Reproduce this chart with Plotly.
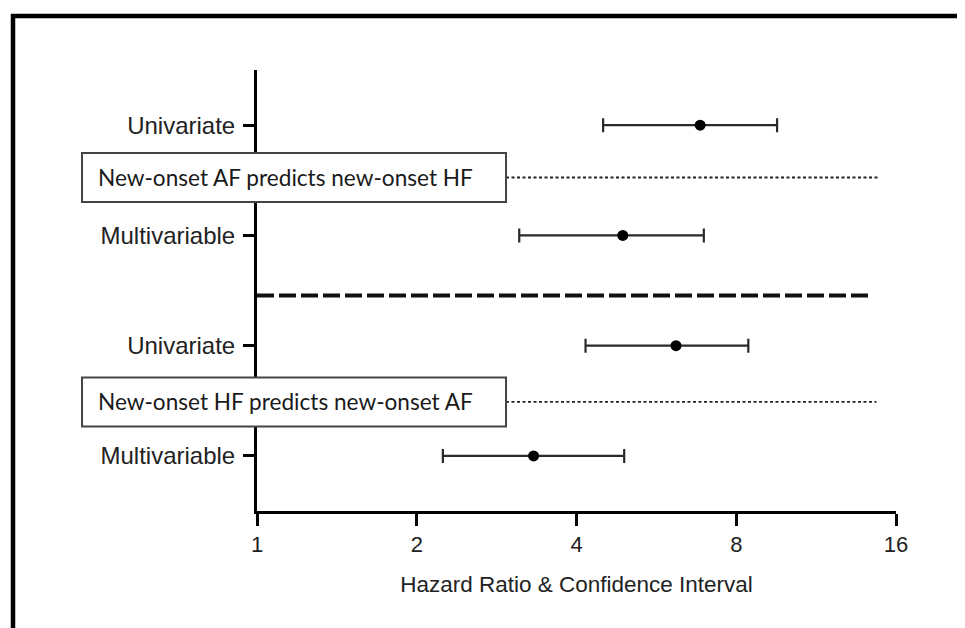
import math
import plotly.graph_objects as go

# ---- data ----
row_labels = ["Univariate", "Multivariable", "Univariate", "Multivariable"]
row_pos = [4, 3, 2, 1]
hazard_ratio = [6.84, 4.89, 6.16, 3.32]
ci_low = [4.49, 3.12, 4.16, 2.24]
ci_high = [9.55, 6.95, 8.43, 4.92]

group_titles = ["New-onset AF predicts new-onset HF", "New-onset HF predicts new-onset AF"]
group_pos = [3.525, 1.489]
group_line_start = [2.946, 2.946]
group_line_end = [14.93, 14.7]

separator_pos = 2.455
separator_x = [1.0, 14.4]

x_ticks = [1, 2, 4, 8, 16]
x_title = "Hazard Ratio & Confidence Interval"

# page has an 8px body margin; figure coords = screen coords - 8
OFF = 8
W, H = 965 - OFF, 628 - OFF
ML, MT = 257 - OFF, 70 - OFF
PW = 896 - 257
PH = 511 - 70
MR = W - ML - PW
MB = H - MT - PH

def px_to_paper_x(px):
    return (px - OFF - ML) / PW

def px_to_paper_y(py):
    return (H - MB - (py - OFF)) / PH

fig = go.Figure()

# dotted group lines
for gy, xs, xe in zip(group_pos, group_line_start, group_line_end):
    fig.add_trace(go.Scatter(
        x=[xs, xe], y=[gy, gy], mode="lines",
        line=dict(color="#222222", width=1.8, dash="3px,2.5px"),
        hoverinfo="skip", showlegend=False))

# separator dashed line
fig.add_trace(go.Scatter(
    x=separator_x, y=[separator_pos, separator_pos], mode="lines",
    line=dict(color="#111111", width=4, dash="17px,5px"),
    hoverinfo="skip", showlegend=False))

# estimates with CI
fig.add_trace(go.Scatter(
    x=hazard_ratio, y=row_pos, mode="markers",
    marker=dict(color="black", size=11),
    error_x=dict(type="data", symmetric=False,
                 array=[h - m for h, m in zip(ci_high, hazard_ratio)],
                 arrayminus=[m - l for m, l in zip(hazard_ratio, ci_low)],
                 color="#2a2a2a", thickness=2.2, width=7),
    showlegend=False))

# group boxes and texts
for text, gy in zip(group_titles, group_pos):
    fig.add_shape(type="rect", xref="paper", yref="y",
                  x0=px_to_paper_x(82), x1=px_to_paper_x(506),
                  y0=gy - 0.222, y1=gy + 0.222,
                  fillcolor="white", line=dict(color="#444444", width=2),
                  layer="above")
    fig.add_annotation(xref="paper", yref="y", x=px_to_paper_x(96), y=gy,
                       text=text, showarrow=False, xanchor="left", yanchor="middle",
                       font=dict(family="Lato", size=22.6, color="#1a1a1a"))

# outer frame (top + left)
fig.add_shape(type="path", xref="paper", yref="paper",
              path="M {l},{b} L {l},{t} L {r},{t}".format(
                  l=px_to_paper_x(13), b=px_to_paper_y(628 + 20),
                  t=px_to_paper_y(16), r=px_to_paper_x(965 + 20)),
              line=dict(color="black", width=4.5), layer="above")

fig.update_xaxes(
    type="log", range=[0, math.log10(16)],
    tickvals=x_ticks, ticktext=[str(v) for v in x_ticks],
    showline=True, linecolor="black", linewidth=3,
    ticks="outside", ticklen=12, tickwidth=3, tickcolor="black",
    showgrid=False, zeroline=False,
    tickfont=dict(family="Liberation Sans, Arial", size=22, color="#222222"),
    title=dict(text=x_title, standoff=20,
               font=dict(family="Liberation Sans, Arial", size=22.5, color="#222222")))

fig.update_yaxes(
    range=[0.5, 4.5], tickvals=row_pos, ticktext=row_labels,
    showline=True, linecolor="black", linewidth=3,
    ticks="outside", ticklen=11, tickwidth=3, tickcolor="black",
    ticklabelstandoff=3,
    showgrid=False, zeroline=False,
    tickfont=dict(family="Liberation Sans, Arial", size=24, color="#222222"))

fig.update_layout(
    width=W, height=H, autosize=False,
    margin=dict(l=ML, r=MR, t=MT, b=MB),
    paper_bgcolor="white", plot_bgcolor="white",
    showlegend=False)

fig.write_html("out.html")
